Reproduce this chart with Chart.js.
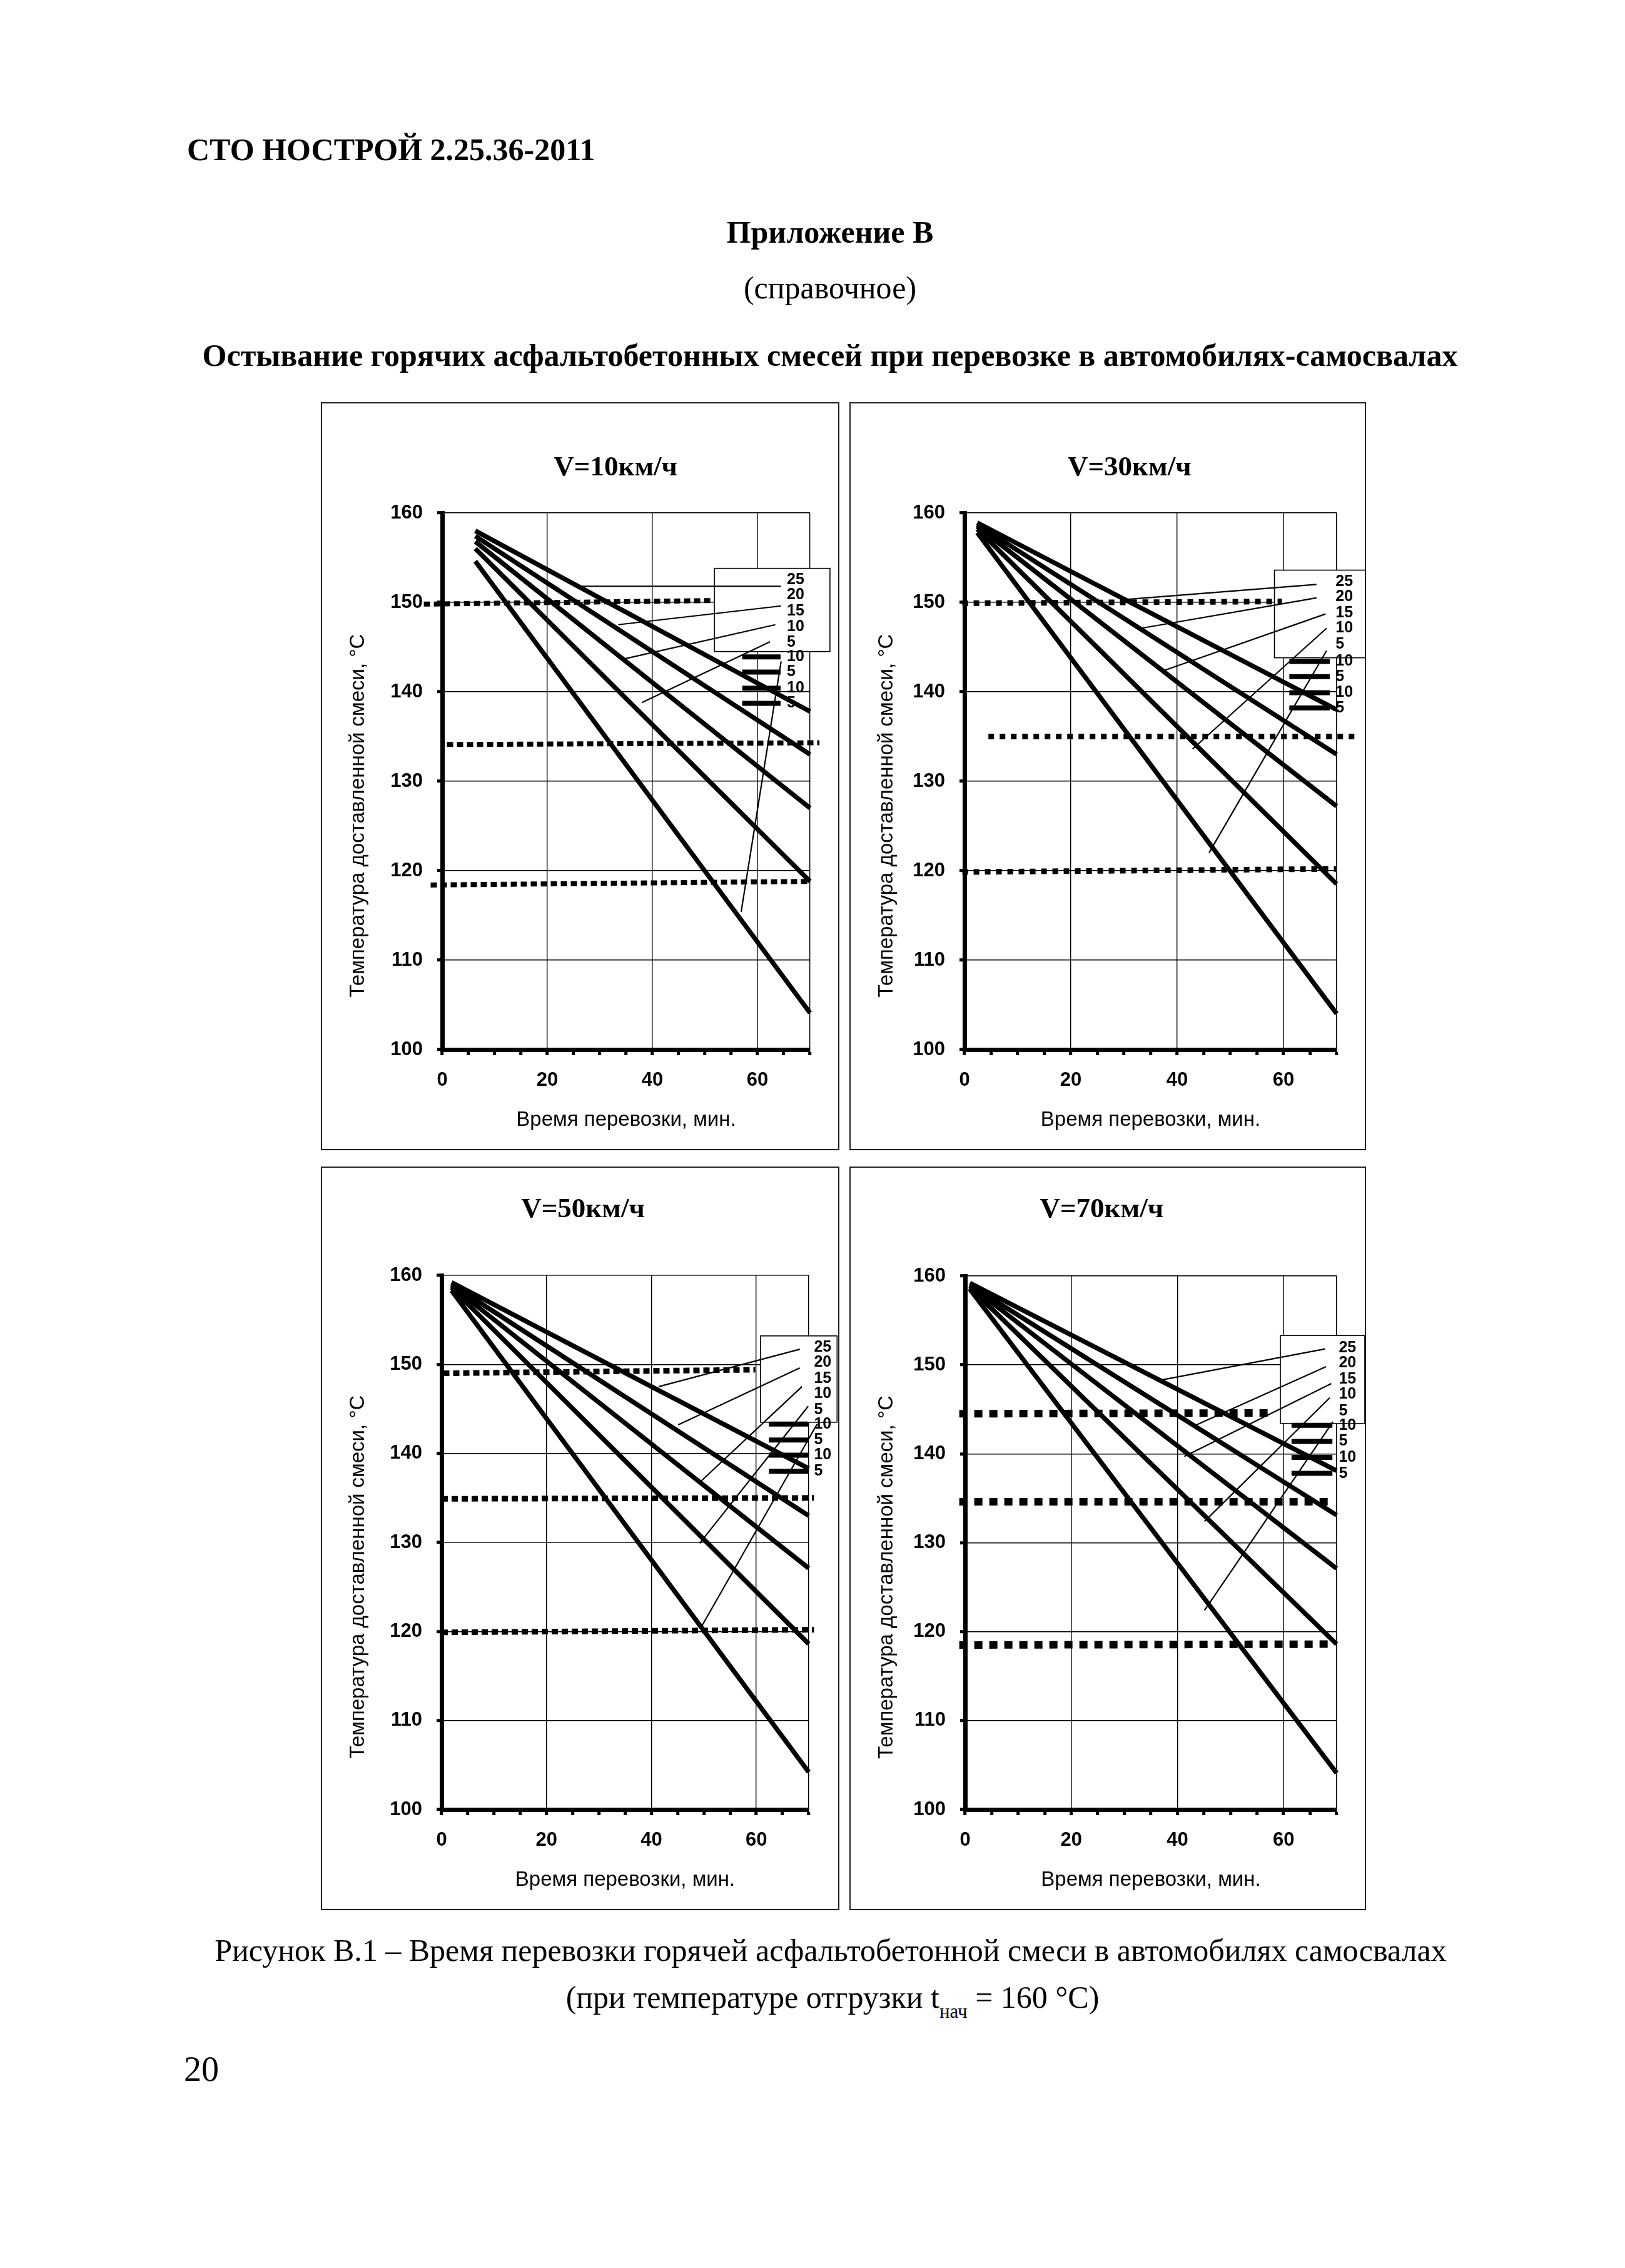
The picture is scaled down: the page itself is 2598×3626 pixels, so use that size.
<!DOCTYPE html>
<html><head><meta charset="utf-8">
<script src="https://cdn.jsdelivr.net/npm/chart.js@4.4.1/dist/chart.umd.min.js"></script>
<style>
html,body{margin:0;padding:0;background:#fff;}
body{width:2598px;height:3626px;position:relative;overflow:hidden;font-family:"Liberation Serif","Times New Roman",serif;color:#000;}
.t{position:absolute;white-space:nowrap;font-size:50px;line-height:50px;}
.c{transform:translateX(-50%);}
.b{font-weight:bold;}
.panel{position:absolute;outline:2px solid #222;outline-offset:-2px;}
.panel canvas{position:absolute;left:0;top:0;}
sub{font-size:31px;line-height:0;vertical-align:-16px;}
</style></head><body>
<div class="t b" style="left:299px;top:214px;">СТО НОСТРОЙ 2.25.36-2011</div>
<div class="t b c" style="left:1327px;top:346px;">Приложение В</div>
<div class="t c" style="left:1327px;top:435px;">(справочное)</div>
<div class="t b c" style="left:1327px;top:543px;">Остывание горячих асфальтобетонных смесей при перевозке в автомобилях-самосвалах</div>

<div class="panel" style="left:513px;top:643px;width:829px;height:1196px;"><canvas id="c1" width="829" height="1196"></canvas></div>
<div class="panel" style="left:1358px;top:643px;width:826px;height:1196px;"><canvas id="c2" width="826" height="1196"></canvas></div>
<div class="panel" style="left:513px;top:1865px;width:829px;height:1189px;"><canvas id="c3" width="829" height="1189"></canvas></div>
<div class="panel" style="left:1358px;top:1865px;width:826px;height:1189px;"><canvas id="c4" width="826" height="1189"></canvas></div>

<div class="t c" style="left:1328px;top:3093px;">Рисунок В.1 – Время перевозки горячей асфальтобетонной смеси в автомобилях самосвалах</div>
<div class="t c" style="left:1331px;top:3168px;">(при температуре отгрузки t<sub>нач</sub> = 160 °С)</div>
<div class="t" style="left:294px;top:3280px;font-size:56px;line-height:56px;">20</div>

<script>
// ---------------- data ----------------
const panelTitles = ['V=10км/ч', 'V=30км/ч', 'V=50км/ч', 'V=70км/ч'];
const xTickValues = [0, 20, 40, 60];
const xTickLabels = ['0', '20', '40', '60'];
const yTickValues = [100, 110, 120, 130, 140, 150, 160];
const yTickLabels = ['100', '110', '120', '130', '140', '150', '160'];
const airTempLabels = ['25', '20', '15', '10', '5'];
const barLabels = ['10', '5', '10', '5'];
const endTime = 70;

// V = 10 km/h
const v10StartTime = 6.3;
const v10StartTemp = [158.0, 157.4, 156.8, 156.0, 154.6];
const v10EndTemp = [137.8, 133.0, 127.0, 118.8, 104.1];
const v10LimitX0 = [-3.5, 0.9, -2.2];
const v10LimitX1 = [51.5, 71.8, 70.0];
const v10LimitY0 = [149.8, 134.1, 118.4];
const v10LimitY1 = [150.2, 134.3, 118.8];
const v10LeadFrom = [[25.9, 151.8], [33.5, 147.5], [34.8, 143.7], [38.0, 138.8], [56.9, 115.4]];
const v10LeadTo = [[64.5, 151.8], [64.5, 149.6], [63.4, 147.5], [62.4, 145.6], [64.5, 143.4]];
const v10Box = [51.8, 153.8, 73.8, 144.5];
const v10LabelX = 65.6;
const v10LabelY = [152.5, 150.8, 149.0, 147.3, 145.5];
const v10BarX = [57.1, 64.4];
const v10BarY = [143.9, 142.2, 140.4, 138.7];

// V = 30 km/h
const v30StartTime = 2.4;
const v30StartTemp = [158.9, 158.7, 158.5, 158.2, 157.8];
const v30EndTemp = [138.0, 133.0, 127.2, 118.5, 104.0];
const v30LimitX0 = [-0.4, 4.5, -0.4];
const v30LimitX1 = [59.7, 74.1, 70.0];
const v30LimitY0 = [149.9, 135.0, 119.85];
const v30LimitY1 = [150.1, 135.0, 120.2];
const v30LeadFrom = [[30.0, 150.3], [33.2, 147.1], [37.6, 142.4], [42.9, 133.6], [46.0, 122.0]];
const v30LeadTo = [[66.2, 152.0], [66.2, 150.5], [67.9, 148.7], [68.1, 147.1], [68.1, 144.6]];
const v30Box = [58.3, 153.6, 75.4, 143.8];
const v30LabelX = 69.8;
const v30LabelY = [152.3, 150.6, 148.8, 147.1, 145.3];
const v30BarX = [61.1, 68.7];
const v30BarY = [143.4, 141.7, 139.9, 138.2];

// V = 50 km/h
const v50StartTime = 1.9;
const v50StartTemp = [159.2, 159.0, 158.8, 158.6, 158.3];
const v50EndTemp = [138.3, 133.0, 127.1, 118.6, 104.2];
const v50LimitX0 = [0.3, 0.0, 0.0];
const v50LimitX1 = [59.8, 71.0, 71.0];
const v50LimitY0 = [149.0, 134.9, 119.9];
const v50LimitY1 = [149.4, 135.0, 120.2];
const v50LeadFrom = [[41.4, 147.5], [45.1, 143.2], [49.5, 136.9], [49.2, 129.9], [49.5, 120.5]];
const v50LeadTo = [[68.3, 151.7], [68.3, 149.6], [68.7, 147.5], [69.9, 145.3], [71.6, 143.3]];
const v50Box = [60.8, 153.2, 75.4, 143.5];
const v50LabelX = 71.0;
const v50LabelY = [151.9, 150.2, 148.4, 146.7, 144.9];
const v50BarX = [62.4, 69.9];
const v50BarY = [143.3, 141.5, 139.8, 138.0];

// V = 70 km/h
const v70StartTime = 0.9;
const v70StartTemp = [159.2, 159.0, 158.9, 158.7, 158.5];
const v70EndTemp = [138.1, 133.1, 127.1, 118.6, 104.1];
const v70LimitX0 = [-1.1, -1.1, -1.1];
const v70LimitX1 = [58.2, 68.9, 69.1];
const v70LimitY0 = [144.5, 134.6, 118.5];
const v70LimitY1 = [144.6, 134.6, 118.6];
const v70LeadFrom = [[36.9, 148.3], [43.0, 143.1], [41.3, 139.7], [45.1, 132.4], [45.1, 122.4]];
const v70LeadTo = [[67.8, 151.8], [68.0, 149.8], [69.0, 147.9], [68.7, 146.3], [69.3, 143.6]];
const v70Box = [59.4, 153.3, 75.3, 143.4];
const v70LabelX = 70.4;
const v70LabelY = [151.9, 150.2, 148.4, 146.7, 144.8];
const v70BarX = [61.5, 69.2];
const v70BarY = [143.2, 141.4, 139.6, 137.8];

// ---------------- chart setup ----------------
Chart.defaults.font.family = '"Liberation Sans", Arial, sans-serif';
Chart.defaults.color = '#000';

const panels = [
  { canvas: 'c1', title: panelTitles[0], shift: 3, axisW: 194, padR: 47, tTop: 78, tBot: 45,
    startTime: v10StartTime, startTemp: v10StartTemp, endTemp: v10EndTemp,
    limX0: v10LimitX0, limX1: v10LimitX1, limY0: v10LimitY0, limY1: v10LimitY1,
    leadFrom: v10LeadFrom, leadTo: v10LeadTo, box: v10Box, labelX: v10LabelX, labelY: v10LabelY,
    barX: v10BarX, barY: v10BarY, dash: [10, 6], dashW: 8 },
  { canvas: 'c2', title: panelTitles[1], shift: 6, axisW: 184, padR: 47, tTop: 78, tBot: 45,
    startTime: v30StartTime, startTemp: v30StartTemp, endTemp: v30EndTemp,
    limX0: v30LimitX0, limX1: v30LimitX1, limY0: v30LimitY0, limY1: v30LimitY1,
    leadFrom: v30LeadFrom, leadTo: v30LeadTo, box: v30Box, labelX: v30LabelX, labelY: v30LabelY,
    barX: v30BarX, barY: v30BarY, dash: [9, 9], dashW: 9 },
  { canvas: 'c3', title: panelTitles[2], shift: 12, axisW: 193, padR: 49, tTop: 42, tBot: 78,
    startTime: v50StartTime, startTemp: v50StartTemp, endTemp: v50EndTemp,
    limX0: v50LimitX0, limX1: v50LimitX1, limY0: v50LimitY0, limY1: v50LimitY1,
    leadFrom: v50LeadFrom, leadTo: v50LeadTo, box: v50Box, labelX: v50LabelX, labelY: v50LabelY,
    barX: v50BarX, barY: v50BarY, dash: [10, 6], dashW: 9 },
  { canvas: 'c4', title: panelTitles[3], shift: 14, axisW: 185, padR: 47, tTop: 42, tBot: 79,
    startTime: v70StartTime, startTemp: v70StartTemp, endTemp: v70EndTemp,
    limX0: v70LimitX0, limX1: v70LimitX1, limY0: v70LimitY0, limY1: v70LimitY1,
    leadFrom: v70LeadFrom, leadTo: v70LeadTo, box: v70Box, labelX: v70LabelX, labelY: v70LabelY,
    barX: v70BarX, barY: v70BarY, dash: [13, 11], dashW: 12 }
];

const pad = n => '\u00A0'.repeat(n);
const base = { pointRadius: 0, pointHoverRadius: 0, tension: 0, borderColor: '#000', backgroundColor: '#000', fill: false, clip: false, borderCapStyle: 'butt' };

function buildDatasets(p) {
  const ds = [];
  p.startTemp.forEach((t0, i) => ds.push(Object.assign({}, base, {
    label: 'air ' + airTempLabels[i],
    data: [{ x: p.startTime, y: t0 }, { x: endTime, y: p.endTemp[i] }], borderWidth: 7.5 })));
  p.limX0.forEach((x0, i) => ds.push(Object.assign({}, base, {
    label: 'limit ' + i,
    data: [{ x: x0, y: p.limY0[i] }, { x: p.limX1[i], y: p.limY1[i] }],
    borderWidth: p.dashW, borderDash: p.dash })));
  p.leadFrom.forEach((a, i) => ds.push(Object.assign({}, base, {
    label: 'lead ' + airTempLabels[i],
    data: [{ x: a[0], y: a[1] }, { x: p.leadTo[i][0], y: p.leadTo[i][1] }], borderWidth: 2.2 })));
  p.barY.forEach((yv, i) => ds.push(Object.assign({}, base, {
    label: 'key ' + barLabels[i],
    data: [{ x: p.barX[0], y: yv }, { x: p.barX[1], y: yv }], borderWidth: 8 })));
  return ds;
}

function keyPlugin(p) {
  return {
    id: 'keyBox',
    beforeDatasetsDraw(chart) {
      const { ctx, scales: { x, y } } = chart;
      const x0 = x.getPixelForValue(p.box[0]), y0 = y.getPixelForValue(p.box[1]);
      const x1 = x.getPixelForValue(p.box[2]), y1 = y.getPixelForValue(p.box[3]);
      ctx.save();
      ctx.fillStyle = '#fff';
      ctx.fillRect(x0, y0, x1 - x0, y1 - y0);
      ctx.strokeStyle = '#000';
      ctx.lineWidth = 1.6;
      ctx.strokeRect(x0, y0, x1 - x0, y1 - y0);
      ctx.restore();
    },
    afterDatasetsDraw(chart) {
      const { ctx, scales: { x, y } } = chart;
      ctx.save();
      ctx.fillStyle = '#000';
      ctx.font = 'bold 25px "Liberation Sans", Arial, sans-serif';
      ctx.textAlign = 'left';
      ctx.textBaseline = 'middle';
      const lx = x.getPixelForValue(p.labelX);
      airTempLabels.forEach((t, i) => ctx.fillText(t, lx, y.getPixelForValue(p.labelY[i])));
      barLabels.forEach((t, i) => ctx.fillText(t, lx, y.getPixelForValue(p.barY[i])));
      ctx.restore();
    }
  };
}

panels.forEach(p => {
  new Chart(document.getElementById(p.canvas), {
    type: 'line',
    data: { datasets: buildDatasets(p) },
    options: {
      responsive: false,
      animation: false,
      devicePixelRatio: 1,
      events: [],
      layout: { padding: { left: 0, right: p.padR, top: 0, bottom: 0 } },
      plugins: {
        legend: { display: false },
        tooltip: { enabled: false },
        title: {
          display: true, text: p.title + pad(p.shift), fullSize: false, color: '#000',
          font: { family: '"Liberation Serif", "Times New Roman", serif', size: 45, weight: 'bold', lineHeight: 1.2 },
          padding: { top: p.tTop, bottom: p.tBot }
        }
      },
      scales: {
        x: {
          type: 'linear', min: 0, max: endTime,
          afterFit: s => { s.height = 161; },
          ticks: {
            stepSize: 5, autoSkip: false, maxRotation: 0, padding: 22,
            font: { size: 31, weight: 'bold' }, color: '#000',
            callback: v => { const k = xTickValues.indexOf(v); return k >= 0 ? xTickLabels[k] : ''; }
          },
          grid: {
            color: c => { const v = c.tick ? c.tick.value : -1; return (v === 20 || v === 40 || v === 60 || v === 70) ? '#000' : 'rgba(0,0,0,0)'; },
            lineWidth: 1.4, drawTicks: true, tickLength: 9, tickWidth: 5, tickColor: '#000'
          },
          border: { display: true, color: '#000', width: 7 },
          title: {
            display: true, text: 'Время перевозки, мин.', color: '#000',
            font: { size: 33, weight: 'normal', lineHeight: 1.2 }, padding: { top: 0, bottom: 28 }
          }
        },
        y: {
          type: 'linear', min: 100, max: 160,
          afterFit: s => { s.width = p.axisW; },
          ticks: {
            stepSize: 10, padding: 23, font: { size: 31, weight: 'bold' }, color: '#000',
            callback: v => { const k = yTickValues.indexOf(v); return k >= 0 ? yTickLabels[k] : ''; }
          },
          grid: {
            color: c => (c.tick && c.tick.value === 100) ? 'rgba(0,0,0,0)' : '#000',
            lineWidth: 1.4, drawTicks: true, tickLength: 8, tickWidth: 5, tickColor: '#000'
          },
          border: { display: true, color: '#000', width: 7 },
          title: {
            display: true, text: 'Температура доставленной смеси, °С' + pad(12), color: '#000',
            font: { size: 33, weight: 'normal', lineHeight: 1.2 }, padding: { top: 40, bottom: 0 }
          }
        }
      }
    },
    plugins: [keyPlugin(p)]
  });
});
</script>
</body></html>
